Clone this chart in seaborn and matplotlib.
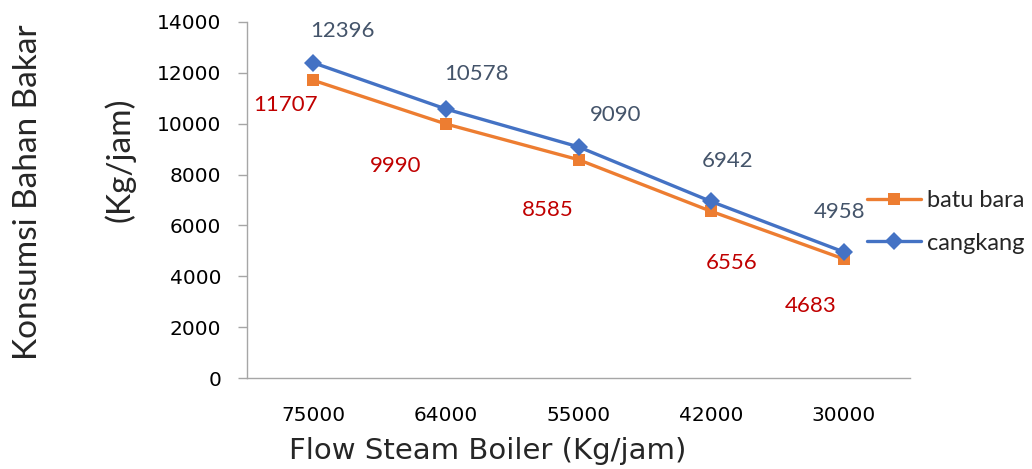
import pandas as pd
import numpy as np
from matplotlib import pyplot as plt
import seaborn as sns

categories = ['75000', '64000', '55000', '42000', '30000']
batu_bara = [11707, 9990, 8585, 6556, 4683]
cangkang = [12396, 10578, 9090, 6942, 4958]
series_names = ['batu bara', 'cangkang']
y_ticks = [0, 2000, 4000, 6000, 8000, 10000, 12000, 14000]

# label offsets in points, picked by eye from the reference
batu_offsets = [(-20, -18), (-36, -30), (-22, -36), (15, -37), (-24, -34)]
cangkang_offsets = [(21, 23), (22, 25), (27, 23), (12, 29), (-3, 29)]

df = pd.DataFrame({
    'pos': list(range(len(categories))) * 2,
    'value': batu_bara + cangkang,
    'series': [series_names[0]] * len(categories) + [series_names[1]] * len(categories),
})

sns.set_theme()
sns.set_style("white")
plt.rcParams['font.family'] = ['Lato', 'DejaVu Sans']

fig = plt.figure(figsize=(10.32, 4.69), dpi=100)
ax = fig.add_axes([247 / 1032, 91 / 469, 663 / 1032, 356 / 469])

colors = {'batu bara': '#ED7D31', 'cangkang': '#4472C4'}
sns.lineplot(data=df, x='pos', y='value', hue='series', style='series',
             hue_order=series_names, style_order=series_names,
             palette=colors, markers={'batu bara': 's', 'cangkang': 'D'},
             dashes=False, linewidth=2.4, markersize=9, markeredgewidth=0,
             ax=ax)

for i, v in enumerate(batu_bara):
    ax.annotate(str(v), (i, v), xytext=batu_offsets[i], textcoords='offset points',
                ha='center', va='center', fontsize=16, color='#C00000')
for i, v in enumerate(cangkang):
    ax.annotate(str(v), (i, v), xytext=cangkang_offsets[i], textcoords='offset points',
                ha='center', va='center', fontsize=16, color='#44546A')

ax.set_xlim(-0.5, len(categories) - 0.5)
ax.set_ylim(0, 14000)
ax.set_yticks(y_ticks)
ax.set_yticklabels([str(t) for t in y_ticks], fontsize=14.5, color='#000000', family='DejaVu Sans')
ax.set_xticks(range(len(categories)))
ax.set_xticklabels(categories, fontsize=14.5, color='#000000', family='DejaVu Sans')
ax.set_xticks(np.arange(-0.5, len(categories)), minor=True)
ax.tick_params(axis='x', which='major', length=0, pad=20)
ax.tick_params(axis='x', which='minor', length=6.5, width=1, color='#A6A6A6', direction='out')
ax.tick_params(axis='y', length=6.5, width=1, color='#A6A6A6', direction='out', left=True, pad=12)

for s in ['top', 'right']:
    ax.spines[s].set_visible(False)
for s in ['left', 'bottom']:
    ax.spines[s].set_color('#A6A6A6')
    ax.spines[s].set_linewidth(1)

ax.set_xlabel('')
ax.set_ylabel('')
fig.text(488 / 1032, 1 - 451 / 469, 'Flow Steam Boiler (Kg/jam)', ha='center', va='center',
         fontsize=21, family='DejaVu Sans')
fig.text(28 / 1032, 1 - 192 / 469, 'Konsumsi Bahan Bakar', rotation=90, ha='center', va='center',
         fontsize=24)
fig.text(120 / 1032, 1 - 160 / 469, '(Kg/jam)', rotation=90, ha='center', va='center',
         fontsize=24)

handles, labels = ax.get_legend_handles_labels()
ax.legend(handles, labels, loc='center left', bbox_to_anchor=(867 / 1032, 1 - 222 / 469),
          bbox_transform=fig.transFigure, frameon=False, fontsize=17,
          handlelength=2.3, handletextpad=0.25, labelspacing=0.9, borderpad=0, borderaxespad=0)

fig.savefig('out.png', dpi=100)
